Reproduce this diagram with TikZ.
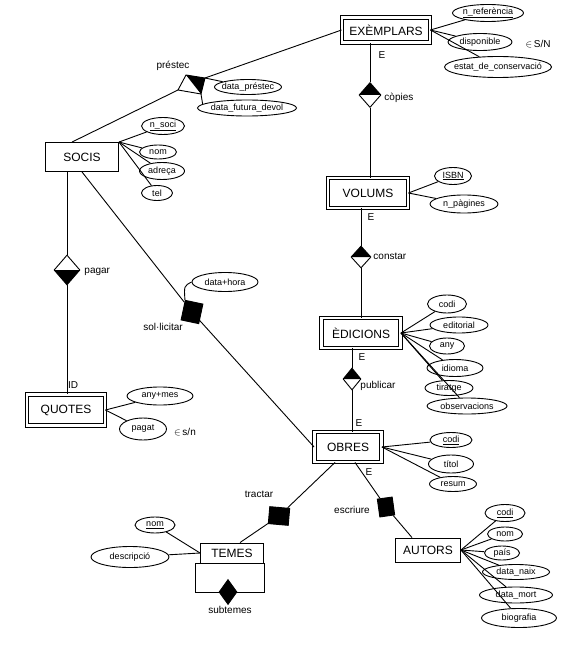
\documentclass[tikz,border=0pt]{standalone}
\usepackage{fontspec}
\setmainfont{Liberation Sans}
\usetikzlibrary{shapes.geometric}
\newcommand\attxt[1]{\makebox[0pt]{#1}}
\newcommand\attkey[1]{\makebox[0pt]{\underline{#1}}}
\begin{document}
\begin{tikzpicture}[x=1pt,y=-1pt, line width=0.9pt,
  strong/.style={draw, double, double distance=2.5pt, inner sep=0pt, font=\fontsize{12}{14}\selectfont},
  plain/.style={draw, inner sep=0pt, font=\fontsize{12}{14}\selectfont},
  attr/.style={draw, ellipse, inner sep=0pt, font=\fontsize{9}{11}\selectfont},
  lbl/.style={font=\fontsize{10}{12}\selectfont, inner sep=1pt},
  tophalf/.style={draw, diamond, inner sep=0pt, path picture={\fill (path picture bounding box.west) -- (path picture bounding box.north) -- (path picture bounding box.east) -- cycle;}},
  bothalf/.style={draw, diamond, inner sep=0pt, path picture={\fill (path picture bounding box.west) -- (path picture bounding box.south) -- (path picture bounding box.east) -- cycle;}},
  blk/.style={draw, fill=black, inner sep=0pt}
]
\useasboundingbox (0,0) rectangle (576,671);

% entities
\node[strong, minimum width=88pt, minimum height=25pt] (EX) at (386,30) {EXÈMPLARS};
\node[strong, minimum width=80pt, minimum height=30pt] (VO) at (368,193) {VOLUMS};
\node[strong, minimum width=79pt, minimum height=30pt] (ED) at (361,333) {ÈDICIONS};
\node[strong, minimum width=67pt, minimum height=30pt] (OB) at (348,447) {OBRES};
\node[strong, minimum width=78pt, minimum height=31pt] (QU) at (66,410) {QUOTES};
\node[plain, minimum width=73pt, minimum height=29pt] (SO) at (82,157) {SOCIS};
\node[plain, minimum width=63pt, minimum height=20pt] (TE) at (232,553) {TEMES};
\node[plain, minimum width=65pt, minimum height=24pt] (AU) at (428,550) {AUTORS};

% attributes EXEMPLARS
\node[attr, minimum width=71pt, minimum height=17pt] (nref) at (488,13) {\attkey{n\_referència}};
\node[attr, minimum width=64pt, minimum height=17pt] (disp) at (480,42) {\attxt{disponible}};
\node[lbl] (dispsn) at (538,44) {$\in$\,S/N};
\node[attr, minimum width=107pt, minimum height=21pt] (estat) at (498,67) {\attxt{estat\_de\_conservació}};
\draw (EX.east) -- (nref);
\draw (EX.east) -- (disp);
\draw (EX.east) -- (estat);

% prestec
\coordinate (prT) at (186,75);
\coordinate (prR) at (205,78);
\coordinate (prB) at (201,94);
\coordinate (prL) at (178,90);
\draw[fill=white] (prT) -- (prR) -- (prB) -- (prL) -- cycle;
\fill (prT) -- (prR) -- (prB) -- cycle;
\node[lbl] (prlbl) at (173,66) {préstec};
\node[attr, minimum width=67pt, minimum height=15pt] (dpr) at (248,87) {\attxt{data\_préstec}};
\node[attr, minimum width=99pt, minimum height=16pt] (dfd) at (247,108) {\attxt{data\_futura\_devol}};
\draw (prR) -- (dpr);
\draw (prB) -- (dfd.175);
\draw ([xshift=-10pt]SO.north) -- (prL);
\draw (prR) -- (EX.west);

% SOCIS attributes
\node[attr, minimum width=43pt, minimum height=17pt] (nsoci) at (163,126) {\attkey{n\_soci}};
\node[attr, minimum width=37pt, minimum height=14pt] (snom) at (158,152) {\attxt{nom}};
\node[attr, minimum width=45pt, minimum height=17pt] (adr) at (162,171) {\attxt{adreça}};
\node[attr, minimum width=31pt, minimum height=15pt] (tel) at (157,193) {\attxt{tel}};
\foreach \a in {nsoci,snom,adr,tel} \draw (SO.north east) -- (\a);

% copies
\node[tophalf, minimum width=22pt, minimum height=25pt] (cop) at (370,95) {};
\node[lbl, anchor=west] (coplbl) at (383,98) {còpies};
\node[lbl] (e1) at (382,55) {E};
\draw (cop.north) -- (cop.north |- EX.south);
\draw (cop.south) -- (cop.south |- VO.north);

% VOLUMS attributes
\node[attr, minimum width=37pt, minimum height=17pt] (isbn) at (453,176) {\attkey{ISBN}};
\node[attr, minimum width=68pt, minimum height=18pt] (npag) at (464,204) {\attxt{n\_pàgines}};
\draw (VO.east) -- (isbn);
\draw (VO.east) -- (npag);
\node[lbl] (e2) at (371,217) {E};

% constar
\node[tophalf, minimum width=20pt, minimum height=22pt] (con) at (361,257) {};
\node[lbl, anchor=west] (conlbl) at (372,256) {constar};
\draw (con.north) -- (con.north |- VO.south);
\draw (con.south) -- (con.south |- ED.north);

% EDICIONS attributes
\node[attr, minimum width=39pt, minimum height=18pt] (ecodi) at (447,304) {\attxt{codi}};
\node[attr, minimum width=58pt, minimum height=16pt] (edit) at (459,325) {\attxt{editorial}};
\node[attr, minimum width=35pt, minimum height=16pt] (eany) at (447,346) {\attxt{any}};
\node[attr, minimum width=56pt, minimum height=17pt] (idi) at (455,368) {\attxt{idioma}};
\node[attr, minimum width=48pt, minimum height=15pt] (tir) at (449,388) {\attxt{tiratge}};
\node[attr, minimum width=80pt, minimum height=16pt] (obs) at (467,406) {\attxt{observacions}};
\foreach \a in {ecodi,edit,eany,idi,tir,obs} \draw (ED.east) -- (\a);
\node[lbl] (e3) at (362,357) {E};

% publicar
\node[tophalf, minimum width=18pt, minimum height=22pt] (pub) at (352,379) {};
\node[lbl, anchor=west] (publbl) at (359,386) {publicar};
\draw (pub.north) -- (pub.north |- ED.south);
\draw (pub.south) -- (pub.south |- OB.north);
\node[lbl] (e4) at (359,423) {E};

% OBRES attributes
\node[attr, minimum width=42pt, minimum height=15pt] (ocodi) at (451,440) {\attkey{codi}};
\node[attr, minimum width=45pt, minimum height=18pt] (tit) at (451,464) {\attxt{títol}};
\node[attr, minimum width=47pt, minimum height=15pt] (res) at (453,484) {\attxt{resum}};
\foreach \a in {ocodi,tit,res} \draw (OB.east) -- (\a);
\node[lbl] (e5) at (369,472) {E};

% escriure
\node[blk, minimum width=15pt, minimum height=18pt, rotate=8] (esc) at (386,507) {};
\node[lbl] (esclbl) at (352,510) {escriure};
\draw ([xshift=7pt]OB.south) -- (esc);
\draw (esc) -- ([xshift=-16pt]AU.north);

% AUTORS attributes
\node[attr, minimum width=40pt, minimum height=17pt] (acodi) at (505,513) {\attkey{codi}};
\node[attr, minimum width=35pt, minimum height=14pt] (anom) at (505,534) {\attxt{nom}};
\node[attr, minimum width=35pt, minimum height=14pt] (pais) at (502,553) {\attxt{país}};
\node[attr, minimum width=67pt, minimum height=15pt] (dnaix) at (516,572) {\attxt{data\_naix}};
\node[attr, minimum width=73pt, minimum height=16pt] (dmort) at (516,595) {\attxt{data\_mort}};
\node[attr, minimum width=75pt, minimum height=19pt] (bio) at (519,618) {\attxt{biografia}};
\foreach \a in {acodi,anom,pais,dnaix,dmort,bio} \draw (AU.east) -- (\a);

% tractar
\node[blk, minimum width=20pt, minimum height=17pt, rotate=-5] (tra) at (279,516) {};
\node[lbl] (tralbl) at (259,494) {tractar};
\draw ([xshift=-13pt]OB.south) -- (tra);
\draw (tra) -- ([xshift=8pt]TE.north);

% TEMES attributes
\node[attr, minimum width=40pt, minimum height=16pt] (tnom) at (155,525) {\attkey{nom}};
\node[attr, minimum width=78pt, minimum height=21pt] (desc) at (130,557) {\attxt{descripció}};
\draw (TE.west) -- (tnom);
\draw (TE.west) -- (desc);

% subtemes
\node[blk, diamond, minimum width=18pt, minimum height=25pt] (sub) at (228,592) {};
\node[lbl] (sublbl) at (230,610) {subtemes};
\draw (TE.south west) -- ++(-5,0) |- (sub.west);
\draw (sub.east) -| (TE.south east);

% pagar
\node[bothalf, minimum width=26pt, minimum height=30pt] (pag) at (67,270) {};
\node[lbl, anchor=west] (paglbl) at (83,272) {pagar};
\draw (pag.north) -- (pag.north |- SO.south);
\draw (pag.south) -- (pag.south |- QU.north);
\node[lbl] (idlbl) at (73,385) {ID};

% QUOTES attributes
\node[attr, minimum width=66pt, minimum height=18pt] (anymes) at (160,396) {\attxt{any+mes}};
\node[attr, minimum width=47pt, minimum height=22pt] (pagat) at (143,429) {\attxt{pagat}};
\node[lbl] (pagsn) at (185,432) {$\in$\,s/n};
\draw (QU.east) -- (anymes);
\draw (QU.east) -- (pagat);

% sol.licitar
\node[blk, minimum width=18pt, minimum height=20pt, rotate=-12] (sol) at (192,312) {};
\node[lbl] (sollbl) at (163,327) {sol·licitar};
\draw (SO.south) -- (sol);
\draw (sol) -- (OB.west);
\node[attr, minimum width=66pt, minimum height=19pt] (dh) at (225,282) {\attxt{data+hora}};
\coordinate (dhc) at (184,286);
\draw (sol.north west) .. controls (dhc) .. (dh.west);
\end{tikzpicture}
\end{document}
